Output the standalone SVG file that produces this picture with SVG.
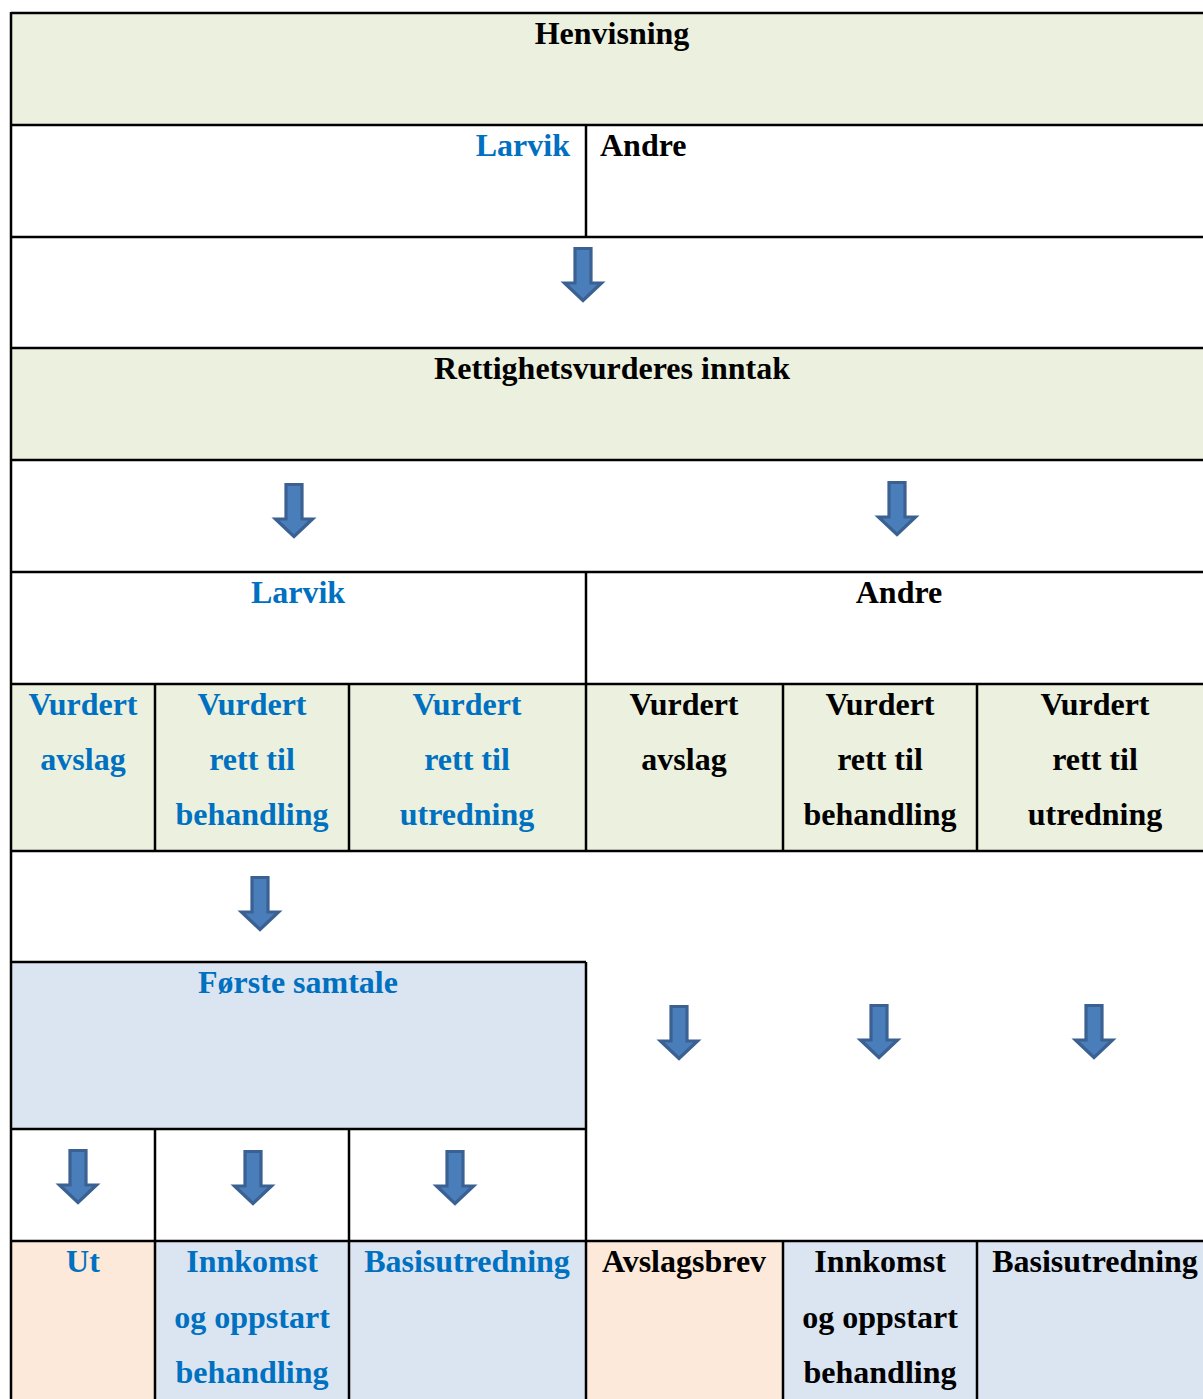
<svg xmlns="http://www.w3.org/2000/svg" xmlns:xlink="http://www.w3.org/1999/xlink" width="1203" height="1399" viewBox="0 0 1203 1399">
<style>
text{font-family:"Liberation Serif","Times New Roman",serif;font-weight:bold;font-size:32px;text-anchor:middle}
.b{fill:#0070c0}
.k{fill:#000}
.g{fill:#ebf1de}
.u{fill:#dbe5f1}
.o{fill:#fde9d9}
.w{fill:#ffffff}
.ln{stroke:#000;stroke-width:2.5;fill:none}
.arr{fill:#4a7ebb;stroke:#3a6192;stroke-width:3.2;stroke-linejoin:miter}
</style>
<defs>
<path id="arrow" class="arr" d="M -8,1.5 H 8 V 36 H 18.5 L 0,53.5 L -18.5,36 H -8 Z"/>
</defs>
<rect x="0" y="0" width="1203" height="1399" fill="#fff"/>
<g id="henvisning"><rect class="g" x="11" y="13" width="1200" height="112"/><text class="k" x="612" y="44">Henvisning</text></g>
<g id="larvik-top"><rect class="w" x="11" y="125" width="575" height="112"/><text class="b" x="570" y="156" style="text-anchor:end">Larvik</text></g>
<g id="andre-top"><rect class="w" x="586" y="125" width="625" height="112"/><text class="k" x="600" y="156" style="text-anchor:start">Andre</text></g>
<g id="rettighet"><rect class="g" x="11" y="348" width="1200" height="112"/><text class="k" x="612" y="379">Rettighetsvurderes inntak</text></g>
<g id="larvik"><text class="b" x="298" y="603">Larvik</text></g>
<g id="andre"><text class="k" x="899" y="603">Andre</text></g>
<g id="l-avslag"><rect class="g" x="11" y="684" width="144" height="167"/><text class="b" x="83" y="715">Vurdert</text><text class="b" x="83" y="770">avslag</text></g>
<g id="l-behandling"><rect class="g" x="155" y="684" width="194" height="167"/><text class="b" x="252" y="715">Vurdert</text><text class="b" x="252" y="770">rett til</text><text class="b" x="252" y="825">behandling</text></g>
<g id="l-utredning"><rect class="g" x="349" y="684" width="237" height="167"/><text class="b" x="467" y="715">Vurdert</text><text class="b" x="467" y="770">rett til</text><text class="b" x="467" y="825">utredning</text></g>
<g id="a-avslag"><rect class="g" x="586" y="684" width="197" height="167"/><text class="k" x="684" y="715">Vurdert</text><text class="k" x="684" y="770">avslag</text></g>
<g id="a-behandling"><rect class="g" x="783" y="684" width="194" height="167"/><text class="k" x="880" y="715">Vurdert</text><text class="k" x="880" y="770">rett til</text><text class="k" x="880" y="825">behandling</text></g>
<g id="a-utredning"><rect class="g" x="977" y="684" width="234" height="167"/><text class="k" x="1095" y="715">Vurdert</text><text class="k" x="1095" y="770">rett til</text><text class="k" x="1095" y="825">utredning</text></g>
<g id="forste-samtale"><rect class="u" x="11" y="962" width="575" height="167"/><text class="b" x="298" y="993">Første samtale</text></g>
<g id="ut"><rect class="o" x="11" y="1241" width="144" height="160"/><text class="b" x="83" y="1272">Ut</text></g>
<g id="l-innkomst"><rect class="u" x="155" y="1241" width="194" height="160"/><text class="b" x="252" y="1272">Innkomst</text><text class="b" x="252" y="1328">og oppstart</text><text class="b" x="252" y="1383">behandling</text></g>
<g id="l-basis"><rect class="u" x="349" y="1241" width="237" height="160"/><text class="b" x="467" y="1272">Basisutredning</text></g>
<g id="avslagsbrev"><rect class="o" x="586" y="1241" width="197" height="160"/><text class="k" x="684" y="1272">Avslagsbrev</text></g>
<g id="a-innkomst"><rect class="u" x="783" y="1241" width="194" height="160"/><text class="k" x="880" y="1272">Innkomst</text><text class="k" x="880" y="1328">og oppstart</text><text class="k" x="880" y="1383">behandling</text></g>
<g id="a-basis"><rect class="u" x="977" y="1241" width="234" height="160"/><text class="k" x="1095" y="1272">Basisutredning</text></g>
<g id="grid">
<path class="ln" d="M11,13 H1212 M11,125 H1212 M11,237 H1212 M11,348 H1212 M11,460 H1212 M11,572 H1212 M11,684 H1212 M11,851 H1212 M11,1241 H1212 M11,962 H586 M11,1129 H586"/>
<path class="ln" d="M11,12 V1400 M586,125 V237 M586,572 V851 M586,962 V1400 M155,684 V851 M155,1129 V1400 M349,684 V851 M349,1129 V1400 M783,684 V851 M783,1241 V1400 M977,684 V851 M977,1241 V1400"/>
</g>
<g id="connectors">
<use href="#arrow" x="583" y="247"/>
<use href="#arrow" x="294" y="483"/>
<use href="#arrow" x="897" y="481"/>
<use href="#arrow" x="260" y="876"/>
<use href="#arrow" x="679" y="1005"/>
<use href="#arrow" x="879" y="1004"/>
<use href="#arrow" x="1094" y="1004"/>
<use href="#arrow" x="78" y="1149"/>
<use href="#arrow" x="253" y="1150"/>
<use href="#arrow" x="455" y="1150"/>
</g>
</svg>
